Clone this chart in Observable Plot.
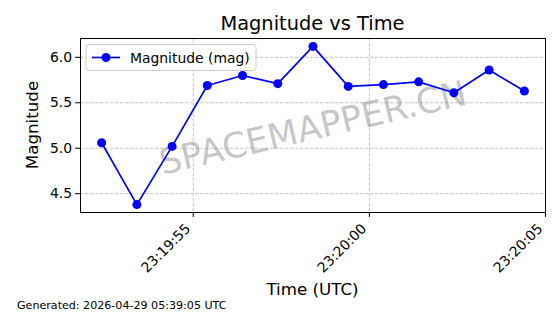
<!DOCTYPE html>
<html><head><meta charset="utf-8">
<script src="https://cdn.jsdelivr.net/npm/d3@7"></script>
<script src="https://cdn.jsdelivr.net/npm/@observablehq/plot@0.6"></script>
<style>body{margin:0;background:#fff;} svg{font-family:"DejaVu Sans",sans-serif;}</style>
</head><body><div id="chart"></div>
<script>
const times = [
  "2026-04-28T23:19:52.400Z", "2026-04-28T23:19:53.400Z", "2026-04-28T23:19:54.400Z",
  "2026-04-28T23:19:55.400Z", "2026-04-28T23:19:56.400Z", "2026-04-28T23:19:57.400Z",
  "2026-04-28T23:19:58.400Z", "2026-04-28T23:19:59.400Z", "2026-04-28T23:20:00.400Z",
  "2026-04-28T23:20:01.400Z", "2026-04-28T23:20:02.400Z", "2026-04-28T23:20:03.400Z",
  "2026-04-28T23:20:04.400Z"
];
const magnitudes = [5.06, 4.38, 5.02, 5.69, 5.80, 5.71, 6.12, 5.68, 5.70, 5.73, 5.61, 5.86, 5.63];
const xTickTimes = ["2026-04-28T23:19:55Z", "2026-04-28T23:20:00Z", "2026-04-28T23:20:05Z"];
const xTickLabels = ["23:19:55", "23:20:00", "23:20:05"];
const yTicks = [4.5, 5.0, 5.5, 6.0];
const seriesName = "Magnitude (mag)";
const titleText = "Magnitude vs Time";
const xLabel = "Time (UTC)";
const yLabel = "Magnitude";
const footerText = "Generated: 2026-04-29 05:39:05 UTC";
const watermark = "SPACEMAPPER.CN";

const data = times.map((t, i) => ({time: new Date(t), mag: magnitudes[i]}));
const tickDates = xTickTimes.map(t => new Date(t));
const tickRows = tickDates.map((d, i) => ({d, label: xTickLabels[i]}));

const chart = Plot.plot({
  width: 560, height: 314,
  marginLeft: 80, marginRight: 15, marginTop: 38, marginBottom: 102,
  style: {fontFamily: "DejaVu Sans", fontSize: "13.9px", color: "black", background: "white", overflow: "visible"},
  x: {type: "utc", domain: [new Date("2026-04-28T23:19:51.800Z"), new Date("2026-04-28T23:20:05.000Z")]},
  y: {domain: [4.293, 6.207]},
  marks: [
    Plot.gridX(tickDates, {stroke: "#b0b0b0", strokeOpacity: 0.9, strokeDasharray: "3.5,1.5", strokeWidth: 0.8}),
    Plot.gridY(yTicks, {stroke: "#b0b0b0", strokeOpacity: 0.9, strokeDasharray: "3.5,1.5", strokeWidth: 0.8}),
    Plot.axisY(yTicks, {tickFormat: d => d.toFixed(1), tickSize: 4.9, tickPadding: 3.5, label: null, fontSize: 13.9}),
    Plot.axisX(tickDates, {tickSize: 4.9, tickFormat: () => "", label: null}),
    Plot.text(tickRows, {x: "d", text: "label", frameAnchor: "bottom", rotate: -45, textAnchor: "end", lineAnchor: "top", dy: 10, dx: -9, fontSize: 13.9}),
    Plot.text([watermark], {frameAnchor: "middle", dy: 3, rotate: -13, fontSize: 35, fill: "#808080", fillOpacity: 0.45}),
    Plot.line(data, {x: "time", y: "mag", stroke: "#0000ff", strokeWidth: 1.7}),
    Plot.dot(data, {x: "time", y: "mag", r: 4.5, fill: "#0000ff", stroke: "none"}),
    Plot.frame({stroke: "black", strokeWidth: 1})
  ]
});

const svg = d3.select(chart);
svg.append("text").attr("x", 312.5).attr("y", 30).attr("text-anchor", "middle")
  .attr("font-size", 19.4).attr("fill", "black").text(titleText);
svg.append("text").attr("x", 312.5).attr("y", 295).attr("text-anchor", "middle")
  .attr("font-size", 16.7).attr("fill", "black").text(xLabel);
svg.append("text").attr("transform", "translate(38,125) rotate(-90)").attr("text-anchor", "middle")
  .attr("font-size", 16.7).attr("fill", "black").text(yLabel);
svg.append("text").attr("x", 17).attr("y", 309).attr("text-anchor", "start")
  .attr("font-size", 11.1).attr("fill", "black").text(footerText);

const lg = svg.append("g");
lg.append("rect").attr("x", 86).attr("y", 44.5).attr("width", 170).attr("height", 26).attr("rx", 3)
  .attr("fill", "white").attr("fill-opacity", 0.8).attr("stroke", "#cccccc");
lg.append("line").attr("x1", 92).attr("x2", 120).attr("y1", 57.5).attr("y2", 57.5).attr("stroke", "#0000ff").attr("stroke-width", 1.7);
lg.append("circle").attr("cx", 106).attr("cy", 57.5).attr("r", 4.5).attr("fill", "#0000ff");
lg.append("text").attr("x", 130).attr("y", 62.5).attr("text-anchor", "start")
  .attr("font-size", 13.9).attr("fill", "black").text(seriesName);

document.getElementById("chart").appendChild(chart);
</script>
</body></html>
